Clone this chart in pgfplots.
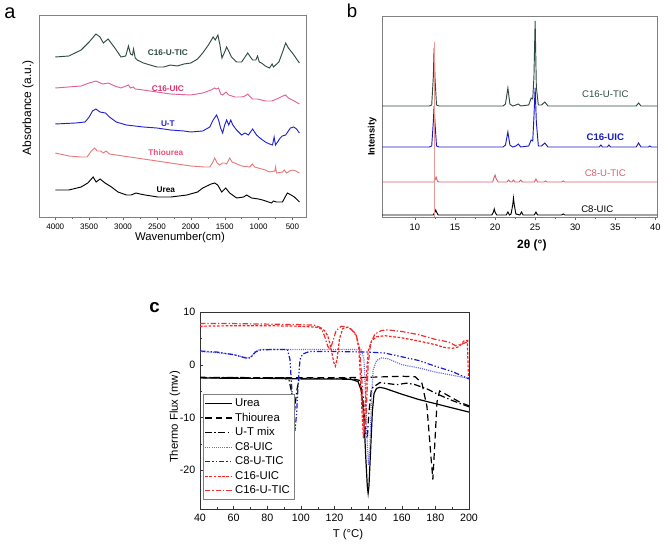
\documentclass[border=0pt]{standalone}
\usepackage{fontspec}
\setmainfont{Liberation Sans}
\usepackage{pgfplots}
\pgfplotsset{compat=1.18}
\definecolor{cgreen}{HTML}{2E4B3F}
\definecolor{cpink}{HTML}{E0609A}
\definecolor{cpinklab}{HTML}{D9306A}
\definecolor{cblueA}{HTML}{2222D0}
\definecolor{csalmon}{HTML}{E87A7A}
\definecolor{csalmonlab}{HTML}{E8507A}
\definecolor{cblueB}{HTML}{1A1AC0}
\definecolor{cc8tic}{HTML}{D86070}
\definecolor{cvline}{HTML}{E89A9A}
\definecolor{cltblue}{HTML}{6A6AE8}
\definecolor{cdblue}{HTML}{1A1AD0}
\definecolor{cred}{HTML}{FF2222}
\definecolor{cred2}{HTML}{F03030}
\begin{document}
\begin{tikzpicture}
\path[use as bounding box] (0,0) rectangle (498pt,408pt);
\node[font=\fontsize{15}{15}\selectfont] at (7.5pt,398pt) {a};
\node[font=\fontsize{14}{14}\selectfont] at (264pt,400pt) {b};
\node[font=\bfseries\fontsize{14}{14}\selectfont] at (116pt,177pt) {c};
% ---------------- panel a
\begin{axis}[at={(29.25pt,245.25pt)}, anchor=south west, scale only axis,
  width=200.25pt, height=151.5pt,
  xmin=300, xmax=4240, x dir=reverse, ymin=0, ymax=202,
  xtick={500,1000,...,4000}, minor x tick num=1, ytick=\empty,
  xtick pos=bottom, tick align=outside, major tick length=2pt, minor tick length=1.2pt,
  axis line style={draw=gray}, tick style={gray!80!black},
  ticklabel style={font=\fontsize{6}{7}\selectfont},
  /pgf/number format/assume math mode=true, /pgf/number format/1000 sep={},
  xlabel={Wavenumber(cm)}, ylabel={Absorbance (a.u.)},
  xlabel style={font=\fontsize{8.5}{9}\selectfont, at={(axis description cs:0.528,-0.104)}, anchor=center},
  ylabel style={font=\fontsize{9}{9}\selectfont, at={(axis description cs:-0.041,0.54)}, anchor=center},
  every axis plot/.append style={line width=0.7pt}, clip=true]
\addplot[cgreen] coordinates {(4000,160)(3800,161)(3618,167)(3500,175)(3400,183)(3340,180)(3290,174)(3220,178)(3120,169)(3030,160)(2960,161)(2920,171)(2890,163)(2860,162)(2845,168)(2820,159)(2790,157)(2700,154)(2600,152)(2500,150)(2400,150)(2300,152)(2200,151)(2100,153)(2000,154)(1900,158)(1824,164)(1740,172)(1670,180)(1640,177)(1600,182)(1570,172)(1540,159)(1500,165)(1471,170)(1440,166)(1400,160)(1324,155)(1250,155)(1200,160)(1160,164)(1120,160)(1088,157)(1040,157)(1015,161)(990,155)(956,154)(900,151)(838,149)(800,153)(780,150)(700,155)(640,166)(600,174)(560,169)(500,164)(397,154)};
\addplot[cpink] coordinates {(4000,129)(3618,131)(3500,134)(3400,136)(3300,133)(3220,134)(3120,131)(3030,129)(2920,132)(2890,129)(2850,130)(2820,128)(2700,127)(2500,125)(2300,123)(2000,122)(1824,124)(1700,127)(1650,129)(1620,128)(1590,129)(1560,123)(1530,122)(1480,125)(1440,122)(1350,120)(1250,120)(1200,121)(1160,123)(1120,120)(1088,118)(1015,118)(900,116)(800,116)(700,119)(640,121)(600,122)(560,119)(500,117)(397,113)};
\addplot[cblueA] coordinates {(4000,93)(3700,94)(3560,95)(3500,100)(3450,106)(3400,108)(3340,105)(3260,104)(3200,100)(3100,95)(2950,92)(2700,90)(2500,89)(2400,88)(2300,87)(2100,86)(2000,85)(1824,86)(1720,90)(1670,97)(1620,102)(1590,97)(1560,89)(1530,84)(1500,92)(1471,97)(1440,92)(1410,97)(1380,92)(1324,87)(1250,82)(1200,84)(1150,82)(1088,88)(1030,82)(980,79)(900,75)(838,73)(794,72)(770,80)(750,72)(680,79)(650,81)(600,82)(530,89)(480,90)(440,88)(397,84)};
\addplot[csalmon] coordinates {(4000,64)(3800,61)(3618,60)(3530,60)(3480,65)(3420,69)(3380,66)(3330,66)(3290,64)(3250,66)(3200,63)(3000,61)(2700,58)(2400,55)(2200,53)(2000,51)(1800,50)(1721,50)(1680,54)(1647,59)(1610,54)(1574,52)(1530,54)(1500,54)(1470,53)(1426,59)(1390,55)(1353,54)(1250,51)(1132,50)(1088,53)(1059,50)(900,47)(838,45)(760,46)(750,50)(735,44)(647,45)(620,47)(588,44)(540,46)(500,47)(450,46)(397,44)};
\addplot[black] coordinates {(4000,27)(3800,27)(3618,30)(3520,34)(3441,40)(3397,35)(3338,38)(3265,34)(3170,30)(3074,25)(2950,22)(2882,22)(2809,24)(2750,23)(2676,22)(2485,20)(2294,20)(2059,22)(1900,25)(1824,29)(1700,33)(1647,34)(1603,32)(1544,25)(1485,29)(1426,24)(1324,19)(1220,20)(1176,22)(1103,19)(1000,18)(941,17)(809,14)(780,16)(735,15)(647,15)(600,21)(574,24)(520,22)(471,20)(397,15)};
\node[font=\bfseries\fontsize{6.2}{7}\selectfont, text=cgreen] at (axis cs:2338,164) {C16-U-TIC};
\node[font=\bfseries\fontsize{6.2}{7}\selectfont, text=cpinklab] at (axis cs:2338,128) {C16-UIC};
\node[font=\bfseries\fontsize{6.2}{7}\selectfont, text=cblueA] at (axis cs:2338,93) {U-T};
\node[font=\bfseries\fontsize{6.2}{7}\selectfont, text=csalmonlab] at (axis cs:2368,64) {Thiourea};
\node[font=\bfseries\fontsize{6.2}{7}\selectfont, text=black] at (axis cs:2368,27) {Urea};
\end{axis}
% ---------------- panel b
\begin{axis}[at={(286.5pt,245.25pt)}, anchor=south west, scale only axis,
  width=206.25pt, height=150.75pt,
  xmin=5.9, xmax=40.2, ymin=0, ymax=201,
  xtick={10,15,...,40}, minor x tick num=1, ytick=\empty,
  xtick pos=bottom, tick align=outside, major tick length=2pt, minor tick length=1.2pt,
  axis line style={draw=gray}, tick style={gray!80!black},
  ticklabel style={font=\fontsize{7}{8}\selectfont},
  /pgf/number format/assume math mode=true,
  xlabel={2θ (°)}, ylabel={Intensity},
  xlabel style={font=\bfseries\fontsize{9}{9}\selectfont, at={(axis description cs:0.545,-0.139)}, anchor=center},
  ylabel style={font=\bfseries\fontsize{7}{7}\selectfont, at={(axis description cs:-0.036,0.40)}, anchor=center},
  every axis plot/.append style={line width=0.7pt}, clip=true]
\addplot[black] coordinates {(5.9,2)(8,2)(10,2)(12.3,2)(12.5,5)(12.6,7)(12.7,5)(12.9,2)(15,2)(19.6,2)(19.8,5)(19.9,8)(20.0,5)(20.2,2)(21.4,2)(21.6,5)(21.8,2)(22.0,3)(22.2,12)(22.3,19)(22.4,12)(22.6,3)(23.1,2)(23.3,5)(23.5,2)(24.9,2)(25.1,5)(25.3,2)(28.3,2)(28.5,3)(28.7,2)(32,2)(36,2)(40.2,2)};
\addplot[cc8tic] coordinates {(5.9,35)(10,35)(12.4,35)(12.55,38)(12.65,40)(12.8,36)(13,35)(19.7,35)(19.9,40)(20.0,42)(20.15,38)(20.4,35)(21.5,35)(21.7,37)(21.9,35)(22.1,35)(22.3,37)(22.5,35)(23.0,35)(23.2,37)(23.4,35)(24.9,35)(25.1,38)(25.3,35)(26.1,35)(26.3,36)(26.5,35)(28.3,35)(28.5,36)(28.7,35)(30,35)(35,35)(40.2,35)};
\addplot[cgreen] coordinates {(5.9,111)(8,111)(10,111)(11.8,111)(12.1,112)(12.3,140)(12.4,169)(12.5,140)(12.7,112)(13,111)(15,111)(18,111)(21,111)(21.3,113)(21.6,129)(21.85,113)(22.2,111)(22.6,112)(22.9,113)(23.2,111)(24.2,112)(24.5,119)(24.7,118)(24.85,140)(25.0,196)(25.15,130)(25.4,112)(25.8,112)(26.2,115)(26.6,111)(30,111)(35,111)(37.6,111)(37.9,114)(38.2,111)(40.2,111)};
\addplot[cblueB] coordinates {(5.9,70)(8,70)(10,70)(11.8,70)(12.1,71)(12.3,95)(12.4,111)(12.5,95)(12.7,71)(13,70)(15,70)(18,70)(21,70)(21.3,72)(21.6,85)(21.85,72)(22.2,70)(22.6,71)(22.9,73)(23.2,70)(24.2,71)(24.5,77)(24.7,76)(24.85,100)(25.0,129)(25.15,95)(25.4,71)(25.8,71)(26.2,74)(26.6,70)(30,70)(33,70)(33.2,72)(33.4,70)(34,70)(34.2,72)(34.4,70)(37.6,70)(37.9,74)(38.2,70)(39.1,70)(39.3,71)(39.5,70)(40.2,70)};
\addplot[cvline, line width=0.6pt] coordinates {(12.45,0)(12.45,175)};
\node[font=\fontsize{7.2}{8}\selectfont, text=cgreen] at (axis cs:33.75,123) {C16-U-TIC};
\node[font=\bfseries\fontsize{7.2}{8}\selectfont, text=cblueB] at (axis cs:33.75,80) {C16-UIC};
\node[font=\fontsize{7.2}{8}\selectfont, text=cc8tic] at (axis cs:33.75,44) {C8-U-TIC};
\node[font=\fontsize{7.2}{8}\selectfont, text=black] at (axis cs:32.75,8) {C8-UIC};
\end{axis}
% ---------------- panel c
\begin{axis}[at={(150pt,26.25pt)}, anchor=south west, scale only axis,
  width=201.75pt, height=147.75pt,
  xmin=40, xmax=200, ymin=-27.4, ymax=10,
  xtick={40,60,...,200}, ytick={-20,-10,0,10}, minor x tick num=1, minor y tick num=1,
  tick pos=left, tick align=inside, major tick length=2.5pt, minor tick length=1.5pt,
  axis line style={draw=black!80, line width=0.7pt}, tick style={black!80},
  ticklabel style={font=\fontsize{8}{9}\selectfont},
  /pgf/number format/assume math mode=true,
  xlabel={T (°C)}, ylabel={Thermo Flux (mw)},
  xlabel style={font=\fontsize{8.5}{9}\selectfont, at={(axis description cs:0.55,-0.132)}, anchor=center},
  ylabel style={font=\fontsize{8.5}{9}\selectfont, at={(axis description cs:-0.093,0.467)}, anchor=center},
  legend style={at={(0.011,0.046)}, anchor=south west, draw=gray, font=\fontsize{8.5}{9}\selectfont, row sep=-0.6pt, inner sep=1pt},
  legend cell align=left,
  legend image code/.code={\draw[#1] (0pt,0pt) -- (20pt,0pt);},
  every axis plot/.append style={line width=0.9pt}, clip=true]
\addplot[black] coordinates {(40,-2.5)(60,-2.6)(80,-2.6)(100,-2.7)(120,-2.7)(130,-2.8)(134,-3.2)(136,-5)(137.5,-10)(138.5,-17)(139.5,-23)(140,-24.4)(140.5,-23)(141.5,-16)(142.5,-9)(143.5,-5.5)(145,-4.5)(147,-4.3)(150,-4.5)(160,-5.6)(170,-6.6)(180,-7.4)(190,-8.2)(200,-9)};
\addlegendentry{Urea}
\addplot[black, dash pattern=on 5pt off 3pt] coordinates {(40,-2.5)(80,-2.5)(120,-2.5)(140,-2.4)(160,-2.2)(168,-2.3)(172,-3.5)(175,-8)(177,-16)(178.5,-21.8)(180,-13)(181,-7)(182.5,-5)(185,-5.4)(190,-6.3)(195,-7.2)(200,-7.8)};
\addlegendentry{Thiourea}
\addplot[black, dash pattern=on 5pt off 2pt on 1pt off 2pt] coordinates {(40,-2.4)(90,-2.5)(93,-3)(95,-6)(96.5,-8)(97.5,-5)(99,-2.6)(110,-2.6)(130,-2.6)(135,-3)(137,-6)(138.5,-13)(139.5,-14)(140.5,-9)(142,-4.5)(147,-3.4)(152,-3.6)(157,-3.8)(163,-3.5)(168,-3.8)(175,-4.6)(182,-5.7)(190,-6.8)(200,-8)};
\addlegendentry{U-T mix}
\addplot[cltblue, dash pattern=on 0.8pt off 0.8pt] coordinates {(40,2.5)(50,2.3)(60,1.9)(68,1.3)(70,1.4)(73,2.5)(76,2.9)(90,2.9)(110,2.9)(130,2.9)(136,2.8)(137.5,1)(138.5,-6)(139.5,-15)(140.2,-19)(141,-16)(142,-6)(143,-1)(145,0.8)(148,1.3)(152,1.1)(160,0)(170,-0.6)(180,-1.4)(190,-2)(200,-2.6)};
\addlegendentry{C8-UIC}
\addplot[cdblue, dash pattern=on 4pt off 1.5pt on 1pt off 1.5pt on 1pt off 1.5pt] coordinates {(40,2.6)(50,2.4)(60,1.9)(68,1.2)(70,1.3)(73,2.4)(76,2.8)(85,2.9)(92,2.9)(93.5,1)(94.5,-4)(95.5,-9)(96.5,-12.6)(97.5,-9)(98.5,-3)(99.5,1)(101,2)(105,2.5)(120,2.5)(140,2.4)(150,2.2)(160,1.5)(170,0.8)(180,-0.3)(190,-1.3)(200,-2.7)};
\addlegendentry{C8-U-TIC}
\addplot[cred, dash pattern=on 2pt off 1.2pt] coordinates {(40,7.3)(60,7.4)(80,7.4)(100,7.3)(110,7.1)(114,6.5)(116,5.5)(118,3)(119.5,0.5)(120.5,-0.3)(121.5,1)(123,5)(125,6.9)(128,7.1)(131,6.5)(133,5.5)(134.5,3)(135.5,-3)(136.5,-10)(137.2,-14)(138,-10)(139,-2)(140,2.5)(142,4.5)(145,5.3)(150,5.5)(160,5.1)(170,4.5)(180,3.8)(185,3.3)(190,3.1)(194,3.4)(197,4.5)(199,4.6)(199.7,-2.5)};
\addlegendentry{C16-UIC}
\addplot[cred2, dash pattern=on 4pt off 1.5pt on 1pt off 1.5pt] coordinates {(40,7.8)(60,7.8)(80,7.7)(100,7.6)(108,7.5)(112,7)(114,5.5)(116,3.5)(117.5,2.8)(119,4.5)(121,6.5)(124,7.3)(127,7.2)(130,6.7)(133,5.5)(135,3)(136.5,-4)(137.5,-11)(138.2,-13)(139,-8)(140,0)(141.5,4)(144,5.8)(148,6.5)(152,6.6)(160,6.3)(170,5.7)(180,4.8)(188,4.3)(192,3.6)(195,3.8)(198,4.2)(200,4.5)};
\addlegendentry{C16-U-TIC}
\end{axis}
\end{tikzpicture}
\end{document}
